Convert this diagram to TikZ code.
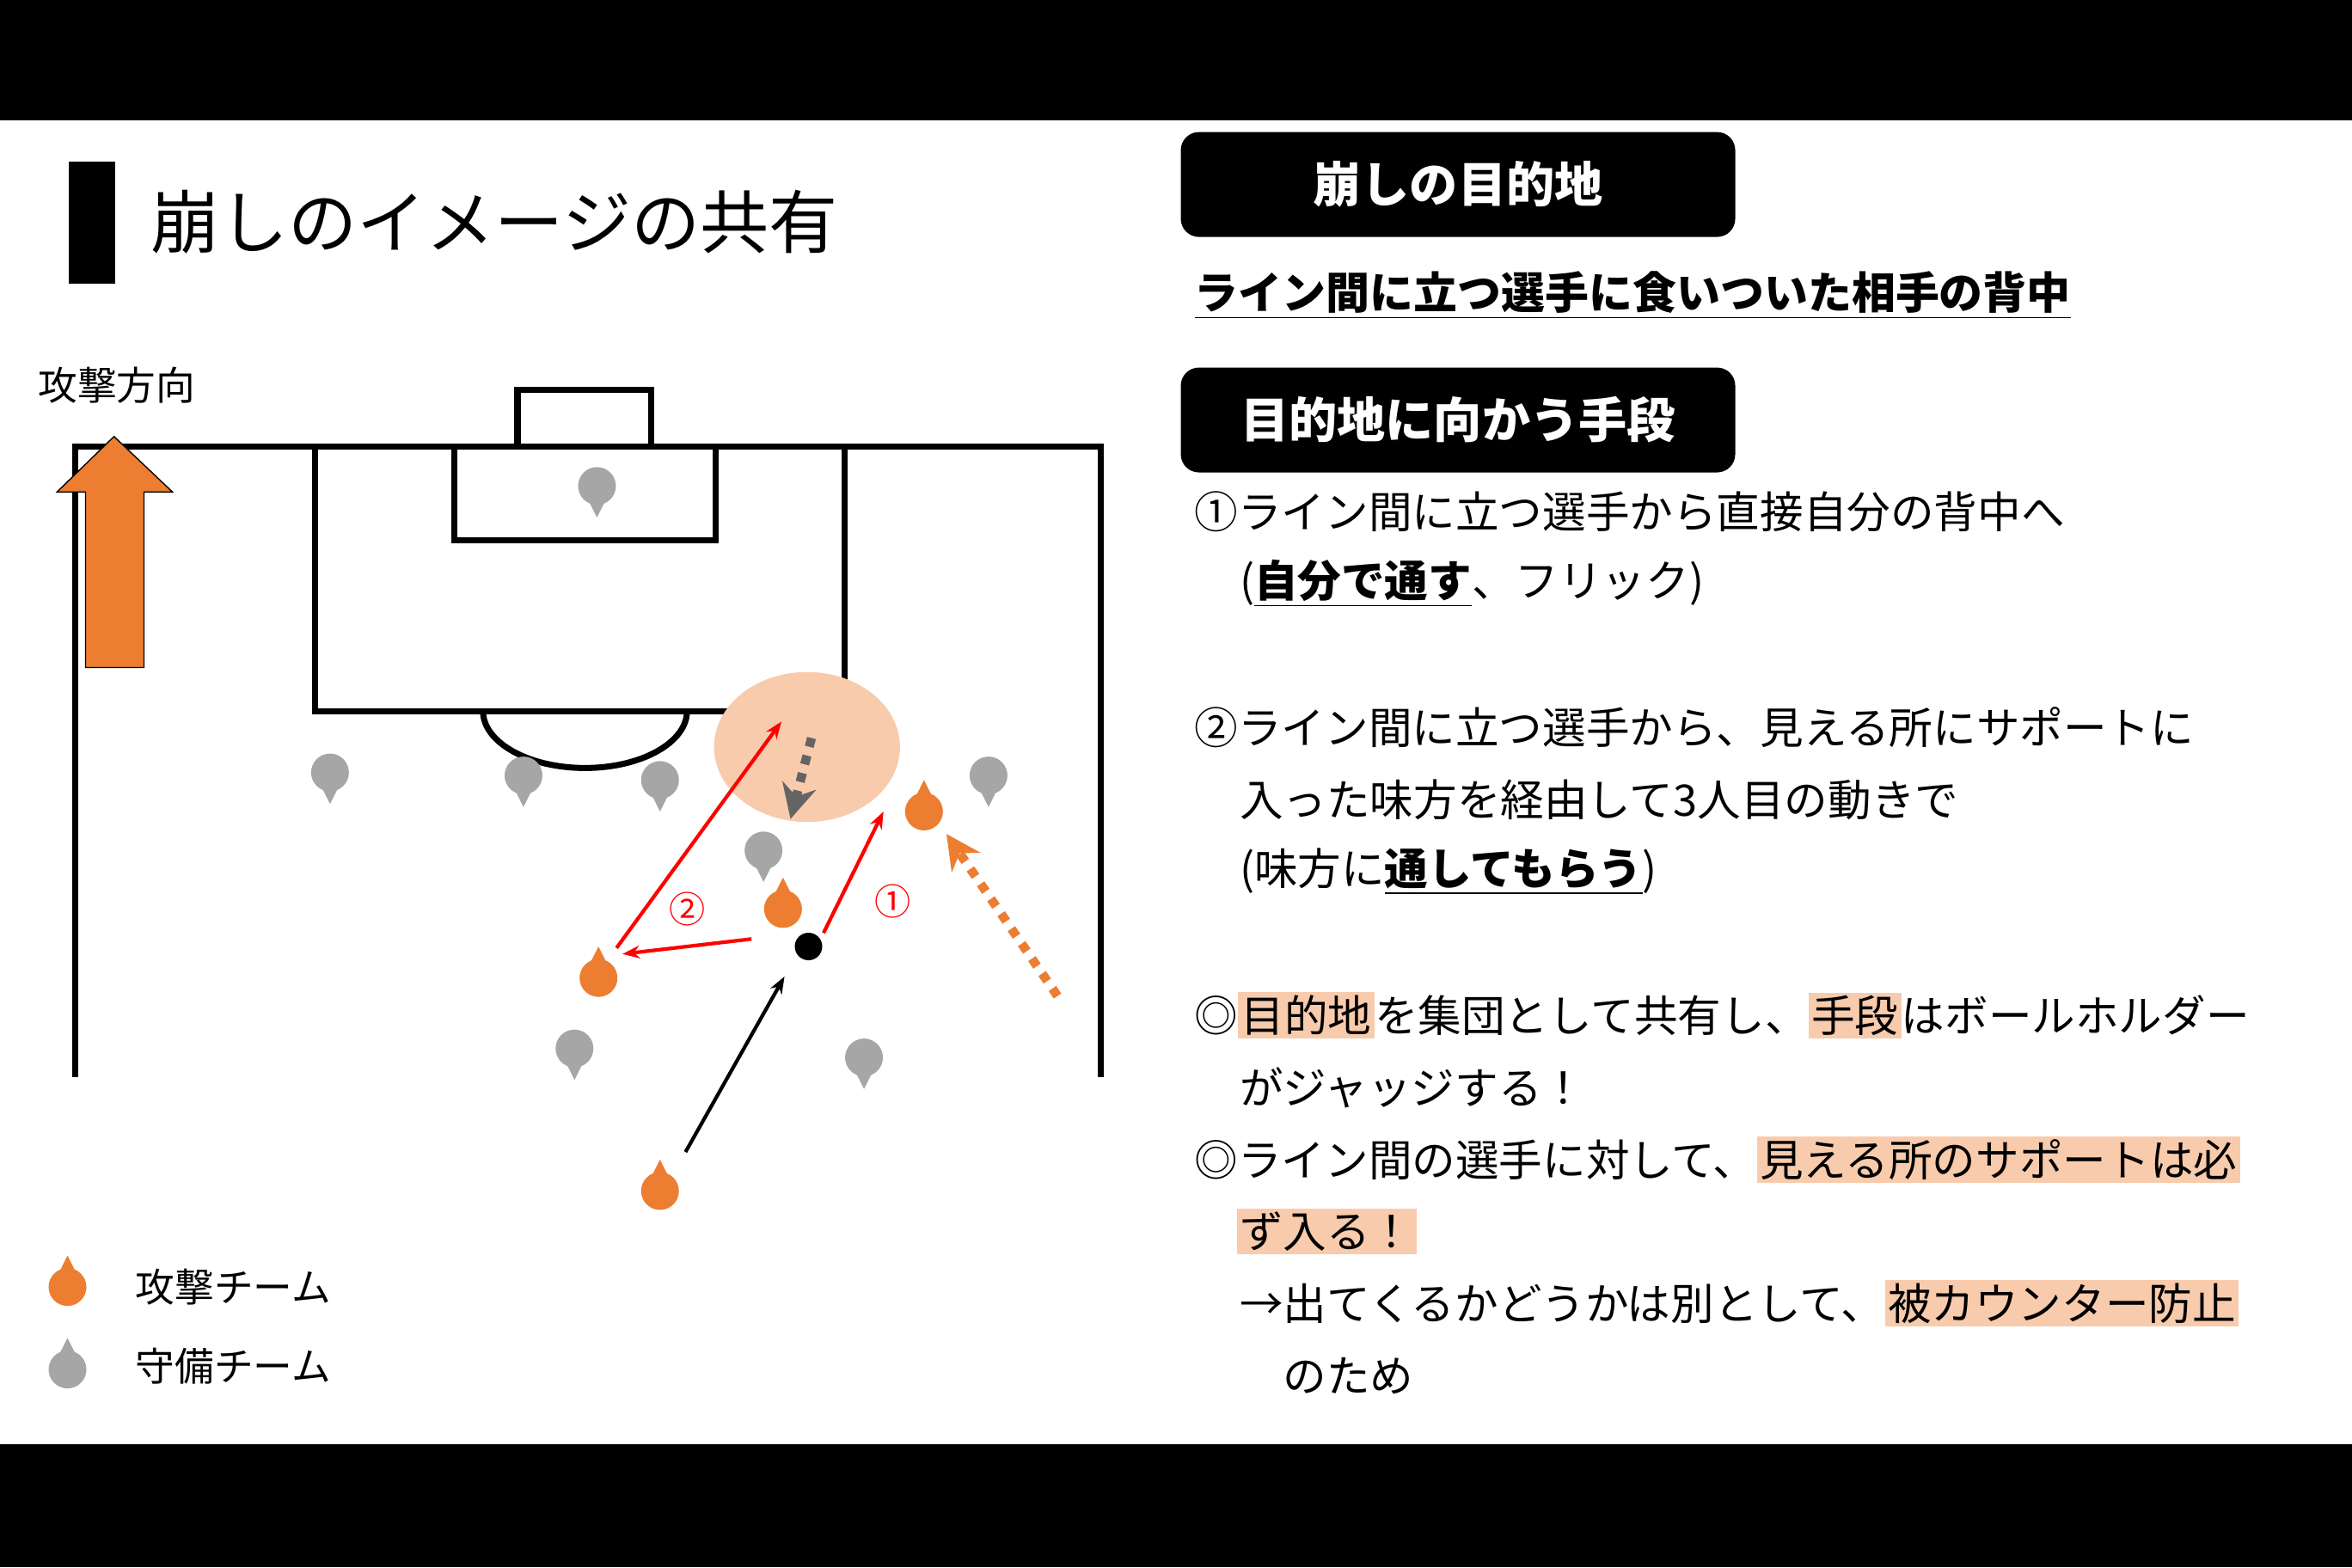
\documentclass[tikz,border=0pt]{standalone}
\usepackage{fontspec}
\setmainfont{Noto Sans CJK JP}
\usetikzlibrary{arrows.meta}
\definecolor{atkorange}{RGB}{237,125,49}
\definecolor{defgrey}{RGB}{166,166,166}
\definecolor{peach}{RGB}{248,203,173}
\newcommand{\hl}[1]{{\setlength{\fboxsep}{1pt}\colorbox{peach}{#1}}}
\newcommand{\ul}[1]{\underline{\textbf{#1}}}
% player marks: attackers point up, defenders point down
\newcommand{\att}[2]{\fill[atkorange] (#2) ++(-9,-3) -- ++(9,-18) -- ++(9,18) -- cycle;
  \node[attplayer] (#1) at (#2) {};}
\newcommand{\dfn}[2]{\fill[defgrey] (#2) ++(-9,3) -- ++(9,18) -- ++(9,-18) -- cycle;
  \node[defplayer] (#1) at (#2) {};}
\begin{document}
\begin{tikzpicture}[x=0.1745mm,y=-0.1745mm,
  pitch/.style={line width=2pt},
  attplayer/.style={circle,fill=atkorange,inner sep=0pt,minimum size=4.4mm},
  defplayer/.style={circle,fill=defgrey,inner sep=0pt,minimum size=4.4mm},
  pass/.style={red,line width=1.2pt,-{Stealth[length=2mm]}},
  heading/.style={fill=black,rounded corners=6pt,minimum width=6.45cm,minimum height=1.22cm,text=white,font=\fontsize{16}{18}\selectfont\bfseries},
  body/.style={anchor=west,inner sep=0pt,font=\fontsize{14.4}{16}\selectfont},
  num/.style={red,font=\fontsize{12}{14}\selectfont}]
\useasboundingbox (0,0) rectangle (1568,1045);
\fill[black] (0,0) rectangle (1568,80);
\fill[black] (0,963) rectangle (1568,1045);
% title
\fill[black] (46,108) rectangle (77,189);
\node[anchor=west,inner sep=0pt,font=\fontsize{22.8}{24}\selectfont] (title) at (100,148) {崩しのイメージの共有};
\node[anchor=west,inner sep=0pt,font=\fontsize{13}{15}\selectfont] (dir) at (25,257) {攻撃方向};
% pitch
\draw[pitch] (50,718) -- (50,298) -- (734,298) -- (734,718);
\draw[pitch] (210,298) -- (210,474) -- (563,474) -- (563,298);
\draw[pitch] (303,298) -- (303,360) -- (477,360) -- (477,298);
\draw[pitch] (345,298) -- (345,260) -- (434,260) -- (434,298);
\draw[pitch] (322,474) arc[start angle=180,end angle=360,x radius=68,y radius=-38];
\fill[atkorange] (57,445) -- (57,328) -- (38,328) -- (76,291) -- (115,328) -- (96,328) -- (96,445) -- cycle;
\draw[black] (57,445) -- (57,328) -- (38,328) -- (76,291) -- (115,328) -- (96,328) -- (96,445) -- cycle;
\fill[peach] (538,498) ellipse[x radius=62,y radius=50];
% players
\dfn{d1}{220,515} \dfn{d2}{349,517} \dfn{d3}{440,520} \dfn{gk}{398,324}
\dfn{d4}{509,567} \dfn{d5}{659,517} \dfn{d6}{383,699} \dfn{d7}{576,705}
\att{a1}{522,606} \att{a2}{616,541} \att{a3}{399,652} \att{a4}{440,794}
\node[circle,fill=black,inner sep=0pt,minimum size=3.2mm] (ball) at (539,631) {};
\coordinate (target) at (521,481);
\coordinate (runstart) at (705,664);
\coordinate (runend) at (631,556);
\coordinate (dropstart) at (541,492);
\coordinate (dropend) at (527,546);
% passes and runs
\draw[pass] (501,626) -- (415,636);
\draw[pass] (411,632) -- (target);
\draw[pass] (549,622) -- (589,541);
\draw[line width=1.2pt,-{Stealth[length=2mm]}] (457,768) -- (523,651);
\draw[defgrey!60!black,line width=3pt,dashed,-{Stealth[length=4mm,width=4mm]}] (dropstart) -- (dropend);
\draw[atkorange,line width=3pt,dash pattern=on 3pt off 3pt,-{Stealth[length=4mm,width=4mm]}] (runstart) -- (runend);
\node[num] (n2) at (458,606) {②};
\node[num] (n1) at (595,601) {①};
% legend
\att{la}{45,858}
\fill[defgrey] (45,913) ++(-9,-3) -- ++(9,-18) -- ++(9,18) -- cycle;
\node[defplayer] (ld) at (45,913) {};
\node[body,font=\fontsize{13}{15}\selectfont] (lat) at (90,858) {攻撃チーム};
\node[body,font=\fontsize{13}{15}\selectfont] (ldf) at (90,911) {守備チーム};
% right text
\node[heading] (h1) at (972,123) {崩しの目的地};
\node[body,font=\fontsize{14.5}{16}\selectfont\bfseries] (goal) at (796,197) {\underline{ライン間に立つ選手に食いついた相手の背中}};
\node[heading] (h2) at (972,280) {目的地に向かう手段};
\node[body] (t1) at (796,341) {①ライン間に立つ選手から直接自分の背中へ};
\node[body] (t2) at (826,389) {(\ul{自分で通す}、フリック)};
\node[body] (t3) at (796,485) {②ライン間に立つ選手から、見える所にサポートに};
\node[body] (t4) at (826,533) {入った味方を経由して3人目の動きで};
\node[body] (t5) at (826,581) {(味方に\ul{通してもらう})};
\node[body] (t6) at (796,677) {◎\hl{目的地}を集団として共有し、\hl{手段}はボールホルダー};
\node[body] (t7) at (826,725) {がジャッジする！};
\node[body] (t8) at (796,773) {◎ライン間の選手に対して、\hl{見える所のサポートは必}};
\node[body] (t9) at (824,821) {\hl{ず入る！}};
\node[body] (t10) at (826,869) {→出てくるかどうかは別として、\hl{被カウンター防止}};
\node[body] (t11) at (855,917) {のため};
\end{tikzpicture}
\end{document}
